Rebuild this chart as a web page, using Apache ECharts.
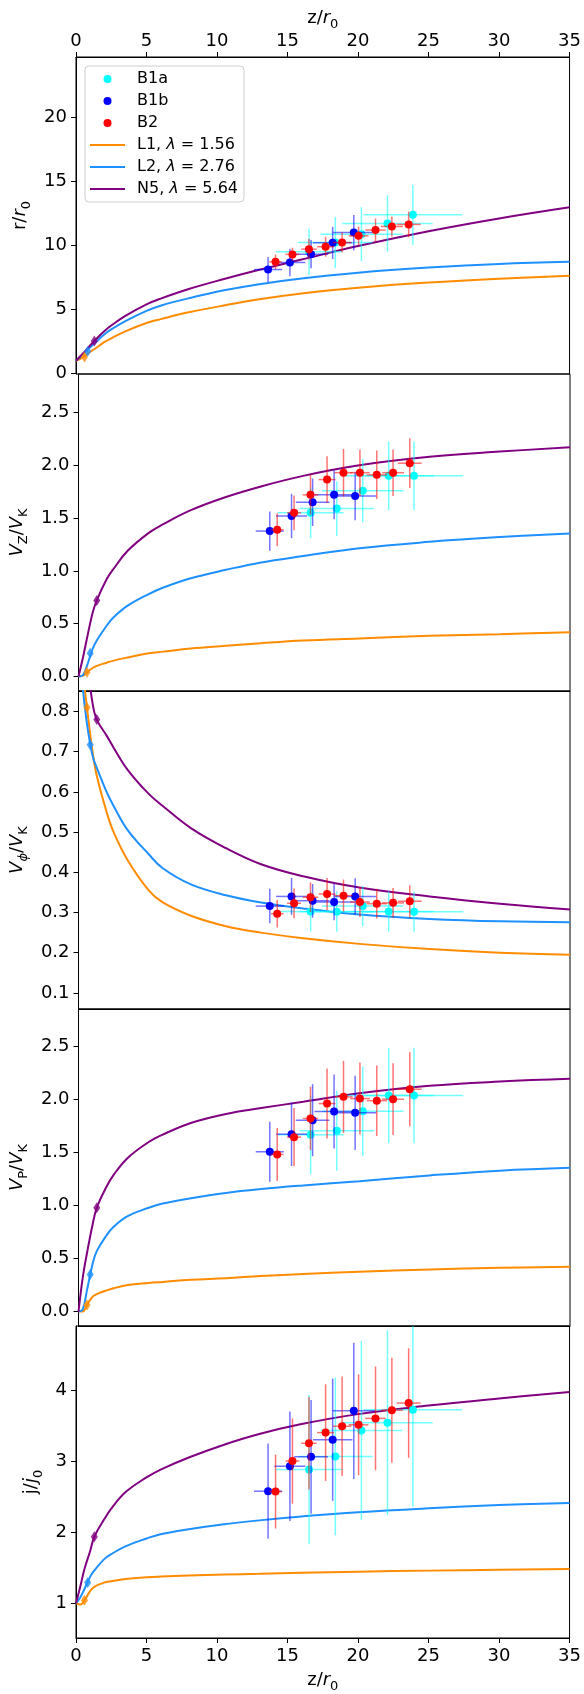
<!DOCTYPE html>
<html><head><meta charset="utf-8">
<script src="https://cdn.jsdelivr.net/npm/echarts@6/dist/echarts.min.js"></script>
<style>html,body{margin:0;padding:0;background:#fff}#c{width:584px;height:1694px}</style>
</head><body><div id="c"></div><script>
// ---------------- data ----------------
const xTicks = [0, 5, 10, 15, 20, 25, 30, 35];
const yTicksR = [0, 5, 10, 15, 20];
const yTicksVz = [0, 0.5, 1, 1.5, 2, 2.5];
const yTicksVphi = [0.1, 0.2, 0.3, 0.4, 0.5, 0.6, 0.7, 0.8];
const yTicksVp = [0, 0.5, 1, 1.5, 2, 2.5];
const yTicksJ = [1, 2, 3, 4];

// observed knot positions z/r0 and their errors
const zB1a = [16.53, 18.39, 20.24, 22.09, 23.89];
const zErrB1a = [2.35, 2.65, 2.9, 3.2, 3.5];
const zB1b = [13.62, 15.17, 16.67, 18.2, 19.7];
const zErrB1b = [1.0, 1.1, 1.2, 1.4, 1.5];
const zB2 = [14.15, 15.35, 16.52, 17.7, 18.87, 20.04, 21.24, 22.4, 23.59];
const zErrB2 = [0.45, 0.5, 0.55, 0.6, 0.65, 0.7, 0.72, 0.78, 0.85];

// r/r0
const rB1a = [9.5, 10.23, 10.88, 11.72, 12.39];
const rErrB1a = [1.8, 2.0, 2.1, 2.2, 2.35];
const rB1b = [8.12, 8.67, 9.32, 10.2, 11.0];
const rErrB1b = [0.98, 1.07, 1.1, 1.26, 1.37];
const rB2 = [8.72, 9.3, 9.71, 9.9, 10.23, 10.75, 11.2, 11.48, 11.64];
const rErrB2 = [0.57, 0.52, 0.8, 0.78, 0.78, 0.72, 0.9, 0.78, 1.0];
// V_Z/V_K
const vzB1a = [1.55, 1.59, 1.76, 1.90, 1.90];
const vzErrB1a = [0.24, 0.26, 0.30, 0.325, 0.325];
const vzB1b = [1.377, 1.52, 1.65, 1.72, 1.71];
const vzErrB1b = [0.186, 0.21, 0.225, 0.23, 0.23];
const vzB2 = [1.39, 1.55, 1.72, 1.865, 1.93, 1.93, 1.91, 1.93, 2.02];
const vzErrB2 = [0.157, 0.165, 0.19, 0.22, 0.225, 0.22, 0.23, 0.22, 0.236];
// V_phi/V_K
const vphiB1a = [0.3025, 0.302, 0.316, 0.3025, 0.302];
const vphiErrB1a = [0.05, 0.05, 0.05, 0.05, 0.05];
const vphiB1b = [0.316, 0.34, 0.329, 0.326, 0.34];
const vphiErrB1b = [0.043, 0.046, 0.042, 0.045, 0.045];
const vphiB2 = [0.297, 0.323, 0.338, 0.346, 0.342, 0.326, 0.322, 0.324, 0.328];
const vphiErrB2 = [0.034, 0.037, 0.037, 0.04, 0.04, 0.037, 0.037, 0.037, 0.04];
// V_P/V_K
const vpB1a = [1.668, 1.706, 1.891, 2.039, 2.039];
const vpErrB1a = [0.37, 0.377, 0.42, 0.45, 0.45];
const vpB1b = [1.508, 1.674, 1.806, 1.888, 1.875];
const vpErrB1b = [0.283, 0.30, 0.34, 0.35, 0.35];
const vpB2 = [1.483, 1.646, 1.822, 1.963, 2.026, 2.01, 1.99, 2.004, 2.098];
const vpErrB2 = [0.25, 0.275, 0.3, 0.33, 0.34, 0.34, 0.333, 0.338, 0.35];
// j/j0
const jB1a = [2.88, 3.065, 3.43, 3.54, 3.72];
const jErrB1a = [1.05, 1.11, 1.26, 1.3, 1.36];
const jB1b = [2.576, 2.927, 3.06, 3.30, 3.706];
const jErrB1b = [0.67, 0.77, 0.8, 0.86, 0.96];
const jB2 = [2.57, 3.0, 3.25, 3.40, 3.49, 3.51, 3.60, 3.715, 3.816];
const jErrB2 = [0.52, 0.6, 0.65, 0.68, 0.7, 0.71, 0.73, 0.74, 0.77];

// model curves, sampled at zModel
const zModel = [0, 0.3, 0.6, 1, 1.3, 2, 2.5, 3.5, 5, 6, 8, 10.5, 13, 16, 20, 25, 30, 35];
const rL1 = [1.0, 1.15, 1.35, 1.7, 1.9, 2.45, 2.75, 3.3, 3.95, 4.25, 4.78, 5.32, 5.8, 6.25, 6.7, 7.1, 7.4, 7.63];
const rL2 = [1.0, 1.3, 1.6, 2.05, 2.35, 3.05, 3.45, 4.1, 4.9, 5.3, 5.88, 6.5, 6.98, 7.42, 7.87, 8.27, 8.56, 8.72];
const rN5 = [1.0, 1.35, 1.7, 2.2, 2.55, 3.3, 3.75, 4.5, 5.4, 5.85, 6.6, 7.38, 8.1, 8.9, 9.95, 11.1, 12.1, 12.97];
const vzL1 = [0, 0.005, 0.04, 0.08, 0.1, 0.13, 0.15, 0.18, 0.22, 0.235, 0.265, 0.29, 0.315, 0.34, 0.36, 0.385, 0.40, 0.418];
const vzL2 = [0, 0.01, 0.1, 0.26, 0.34, 0.48, 0.56, 0.67, 0.78, 0.84, 0.93, 1.01, 1.08, 1.14, 1.215, 1.275, 1.32, 1.355];
const vzN5 = [0, 0.17, 0.36, 0.6, 0.72, 0.92, 1.02, 1.19, 1.36, 1.44, 1.575, 1.7, 1.8, 1.9, 2.0, 2.08, 2.13, 2.17];
const vphiL1 = [null, 0.9, 0.81, 0.70, 0.64, 0.55, 0.5, 0.43, 0.355, 0.325, 0.292, 0.266, 0.25, 0.236, 0.222, 0.209, 0.2, 0.195];
const vphiL2 = [null, 0.86, 0.77, 0.69, 0.66, 0.60, 0.565, 0.505, 0.445, 0.41, 0.37, 0.343, 0.325, 0.31, 0.295, 0.284, 0.278, 0.276];
const vphiN5 = [null, null, 0.93, 0.82, 0.78, 0.74, 0.71, 0.655, 0.595, 0.565, 0.51, 0.46, 0.42, 0.39, 0.362, 0.34, 0.322, 0.3075];
const vpL1 = [0, 0, 0.063, 0.14, 0.165, 0.2, 0.22, 0.25, 0.27, 0.28, 0.30, 0.315, 0.336, 0.355, 0.377, 0.398, 0.413, 0.424];
const vpL2 = [0, 0.02, 0.2, 0.45, 0.57, 0.72, 0.8, 0.9, 0.98, 1.02, 1.07, 1.12, 1.156, 1.19, 1.23, 1.285, 1.33, 1.357];
const vpN5 = [0, 0.32, 0.55, 0.82, 0.98, 1.18, 1.29, 1.45, 1.6, 1.67, 1.78, 1.865, 1.92, 1.98, 2.06, 2.13, 2.17, 2.196];
const jL1 = [1, 0.98, 1.04, 1.17, 1.23, 1.29, 1.31, 1.34, 1.365, 1.375, 1.39, 1.402, 1.413, 1.428, 1.443, 1.458, 1.47, 1.48];
const jL2 = [1, 1.08, 1.2, 1.37, 1.46, 1.62, 1.69, 1.8, 1.91, 1.97, 2.04, 2.11, 2.165, 2.22, 2.28, 2.335, 2.38, 2.41];
const jN5 = [1, 1.23, 1.48, 1.73, 1.935, 2.18, 2.33, 2.56, 2.77, 2.88, 3.05, 3.23, 3.38, 3.52, 3.66, 3.78, 3.88, 3.97];

// model start markers (L1, L2, N5)
const zMark = [0.6, 0.83, 1.3];
const rMark = [1.3, 1.75, 2.55];
const vzMark = [0.04, 0.22, 0.72];
const vphiMark = [0.81, 0.717, 0.78];
const vpMark = [0.063, 0.35, 0.98];
const jMark = [1.04, 1.29, 1.935];

const obsNames = ['B1a', 'B1b', 'B2'];
const modelNames = ['L1, λ = 1.56', 'L2, λ = 2.76', 'N5, λ = 5.64'];

// ---------------- styling / layout ----------------
const FONT = 'DejaVu Sans';
const obsColors = ['#00ffff', '#0000ff', '#ff0000'];
const modelColors = ['#ff8c00', '#1e90ff', '#800080'];
const GRID_TOP = [57, 374, 691, 1009, 1326];
const GRID_H = [317, 317, 318, 317, 317];
const richName = {
  n: {fontFamily: FONT, fontSize: 18, lineHeight: 26, color: '#000'},
  i: {fontFamily: FONT, fontSize: 18, lineHeight: 26, fontStyle: 'italic', color: '#000'},
  s: {fontFamily: FONT, fontSize: 13, lineHeight: 13, verticalAlign: 'bottom', color: '#000'},
  si: {fontFamily: FONT, fontSize: 13, lineHeight: 13, verticalAlign: 'bottom', fontStyle: 'italic', color: '#000'}
};

const panels = [
  {name: '{n|r/}{i|r}{s|0}', min: -0.03, max: 24.7, ticks: yTicksR, dec: 0, gap: 36,
   model: [rL1, rL2, rN5], mark: rMark,
   obs: [[rB1a, rErrB1a], [rB1b, rErrB1b], [rB2, rErrB2]]},
  {name: '{i|V}{s|Z}{n|/}{i|V}{s|K}', min: -0.138, max: 2.865, ticks: yTicksVz, dec: 1, gap: 44,
   model: [vzL1, vzL2, vzN5], mark: vzMark,
   obs: [[vzB1a, vzErrB1a], [vzB1b, vzErrB1b], [vzB2, vzErrB2]]},
  {name: '{i|V}{si|ϕ}{n|/}{i|V}{s|K}', min: 0.06, max: 0.851, ticks: yTicksVphi, dec: 1, gap: 44,
   model: [vphiL1, vphiL2, vphiN5], mark: vphiMark,
   obs: [[vphiB1a, vphiErrB1a], [vphiB1b, vphiErrB1b], [vphiB2, vphiErrB2]]},
  {name: '{i|V}{s|P}{n|/}{i|V}{s|K}', min: -0.136, max: 2.855, ticks: yTicksVp, dec: 1, gap: 44,
   model: [vpL1, vpL2, vpN5], mark: vpMark,
   obs: [[vpB1a, vpErrB1a], [vpB1b, vpErrB1b], [vpB2, vpErrB2]]},
  {name: '{n|j/}{i|j}{s|0}', min: 0.51, max: 4.9, ticks: yTicksJ, dec: 0, gap: 22,
   model: [jL1, jL2, jN5], mark: jMark,
   obs: [[jB1a, jErrB1a], [jB1b, jErrB1b], [jB2, jErrB2]]}
];
const obsZ = [[zB1a, zErrB1a], [zB1b, zErrB1b], [zB2, zErrB2]];

function errRender(color) {
  return function (params, api) {
    const x = api.value(0), y = api.value(1), ex = api.value(2), ey = api.value(3);
    const a = api.coord([x - ex, y]), b = api.coord([x + ex, y]);
    const c = api.coord([x, y - ey]), d = api.coord([x, y + ey]);
    const st = {stroke: color, lineWidth: 1.5, opacity: 0.55};
    return {type: 'group', children: [
      {type: 'line', shape: {x1: a[0], y1: a[1], x2: b[0], y2: b[1]}, style: st},
      {type: 'line', shape: {x1: c[0], y1: c[1], x2: d[0], y2: d[1]}, style: st}
    ]};
  };
}

const grids = [], xAxes = [], yAxes = [], series = [];
panels.forEach((p, gi) => {
  grids.push({left: 76, width: 494, top: GRID_TOP[gi], height: GRID_H[gi],
    show: true, borderColor: '#000', borderWidth: 1, containLabel: false});
  const isTop = gi === 0, isBottom = gi === panels.length - 1;
  xAxes.push({
    type: 'value', gridIndex: gi, min: 0, max: 35,
    position: isTop ? 'top' : 'bottom',
    splitLine: {show: false},
    axisLine: {show: true, onZero: false, lineStyle: {color: '#000', width: 1}},
    axisTick: {show: isTop || isBottom, inside: false, length: 5, customValues: xTicks, lineStyle: {color: '#000'}},
    axisLabel: {show: isTop || isBottom, customValues: xTicks, margin: isTop ? 7 : 9,
      fontFamily: FONT, fontSize: 18, color: '#000'},
    name: (isTop || isBottom) ? '{n|z/}{i|r}{s|0}' : '',
    nameLocation: 'middle', nameGap: isTop ? 26 : 29,
    nameTextStyle: {rich: richName}
  });
  yAxes.push({
    type: 'value', gridIndex: gi, min: p.min, max: p.max,
    splitLine: {show: false},
    axisLine: {show: true, onZero: false, lineStyle: {color: '#000', width: 1}},
    axisTick: {show: true, length: 5, customValues: p.ticks, lineStyle: {color: '#000'}},
    axisLabel: {customValues: p.ticks, margin: 9, fontFamily: FONT, fontSize: 18, color: '#000',
      formatter: v => v.toFixed(p.dec)},
    name: p.name, nameLocation: 'middle', nameRotate: 90, nameGap: p.gap,
    nameTextStyle: {rich: richName}
  });
  // model curves
  p.model.forEach((vals, k) => {
    series.push({
      type: 'line', name: modelNames[k], xAxisIndex: gi, yAxisIndex: gi,
      data: zModel.map((z, i) => [z, vals[i]]),
      smooth: 0.4, symbol: 'none', showSymbol: false, connectNulls: false,
      lineStyle: {color: modelColors[k], width: 2}, itemStyle: {color: modelColors[k]},
      z: 1, clip: true, silent: true
    });
  });
  series.push({
    type: 'scatter', name: 'model start', xAxisIndex: gi, yAxisIndex: gi,
    symbol: 'diamond', symbolSize: [7, 11],
    data: zMark.map((z, k) => ({value: [z, p.mark[k]], itemStyle: {color: modelColors[k]}})),
    z: 2, silent: true
  });
  // observations
  p.obs.forEach((o, k) => {
    const zs = obsZ[k][0], zes = obsZ[k][1];
    series.push({
      type: 'custom', name: obsNames[k] + ' err', xAxisIndex: gi, yAxisIndex: gi,
      renderItem: errRender(obsColors[k]), clip: true, silent: true,
      encode: {x: 0, y: 1},
      data: zs.map((z, i) => [z, o[0][i], zes[i], o[1][i]]),
      z: 3 + 2 * k
    });
    series.push({
      type: 'scatter', name: obsNames[k], xAxisIndex: gi, yAxisIndex: gi,
      symbol: 'circle', symbolSize: 8,
      itemStyle: {color: obsColors[k], opacity: 1},
      data: zs.map((z, i) => [z, o[0][i]]),
      z: 4 + 2 * k, silent: true
    });
  });
});

const legendRich = {
  n: {fontFamily: FONT, fontSize: 16, lineHeight: 18, color: '#000'},
  i: {fontFamily: FONT, fontSize: 16, lineHeight: 18, fontStyle: 'italic', color: '#000'}
};
const LINE_ICON = 'path://M0,0 L35,0 L35,2 L0,2 Z';

const option = {
  animation: false,
  backgroundColor: '#fff',
  grid: grids, xAxis: xAxes, yAxis: yAxes, series: series,
  legend: {
    data: obsNames.map(n => ({name: n, icon: 'circle'}))
      .concat(modelNames.map(n => ({name: n, icon: LINE_ICON}))),
    orient: 'vertical', left: 85, top: 66,
    itemWidth: 35, itemHeight: 8, itemGap: 6,
    padding: [5, 6, 5, 5],
    backgroundColor: 'rgba(255,255,255,0.8)', borderColor: '#cccccc', borderWidth: 1, borderRadius: 4,
    selectedMode: false,
    textStyle: {fontFamily: FONT, fontSize: 16, color: '#000', padding: [0, 0, 0, 7], rich: legendRich},
    formatter: function (name) {
      if (name.indexOf('λ') < 0) return '{n|' + name + '}';
      const parts = name.split('λ');
      return '{n|' + parts[0] + '}{i|λ}{n|' + parts[1] + '}';
    }
  }
};
const chart = echarts.init(document.getElementById('c'), null, {renderer: 'canvas', width: 584, height: 1694});
chart.setOption(option);
</script></body></html>
